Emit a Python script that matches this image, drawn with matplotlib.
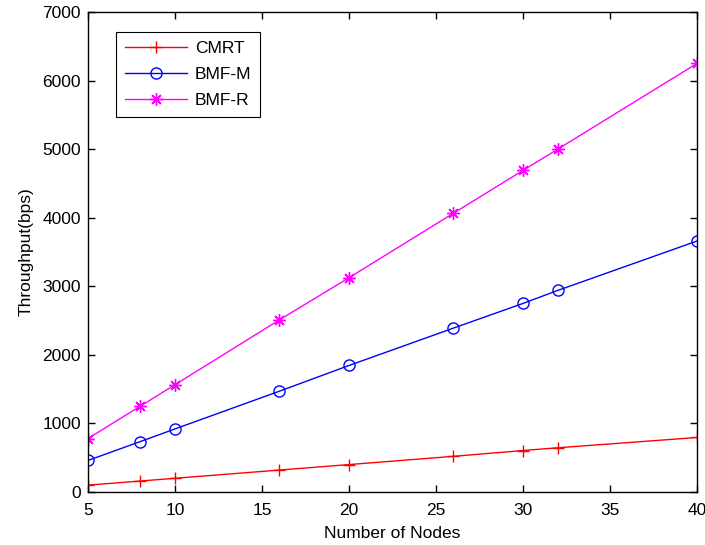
import matplotlib
matplotlib.use("Agg")
import matplotlib.pyplot as plt

nodes = [5, 8, 10, 16, 20, 26, 30, 32, 40]
cmrt = [100, 160, 200, 320, 400, 520, 605, 645, 795]
bmf_m = [460, 735, 920, 1470, 1845, 2390, 2750, 2940, 3660]
bmf_r = [780, 1250, 1565, 2510, 3125, 4065, 4690, 5000, 6250]

xticks = [5, 10, 15, 20, 25, 30, 35, 40]
yticks = [0, 1000, 2000, 3000, 4000, 5000, 6000, 7000]

plt.rcParams['font.family'] = ['Liberation Sans', 'DejaVu Sans']
fs = 12.5
fig = plt.figure(figsize=(7.05, 5.45), dpi=100)
ax = fig.add_axes([88/705, 53/545, (697-88)/705, (492-12)/545])

ax.plot(nodes, cmrt, color='#ff0000', marker='+', markersize=9, lw=1, mew=1, label='CMRT')
ax.plot(nodes, bmf_m, color='#0000ff', marker='o', markersize=8, lw=1, mew=1,
        markerfacecolor='none', label='BMF-M')
ax.plot(nodes, bmf_r, color='#ff00ff', marker=(8, 2, 0), markersize=9, lw=1, mew=1, label='BMF-R')

ax.set_xlim(5, 40)
ax.set_ylim(0, 7000)
ax.set_xticks(xticks)
ax.set_yticks(yticks)
ax.tick_params(axis='x', pad=8)
ax.tick_params(direction='in', top=True, right=True, labelsize=fs, length=5, width=1)
ax.tick_params(axis='y', pad=5)
for s in ax.spines.values():
    s.set_linewidth(1)
ax.set_xlabel('Number of Nodes', fontsize=fs, labelpad=6)
ax.set_ylabel('Throughput(bps)', fontsize=fs, labelpad=6)

leg = ax.legend(loc='upper left', bbox_to_anchor=(0.046, 0.958), borderaxespad=0,
                fontsize=fs, numpoints=1, fancybox=False, edgecolor='black',
                framealpha=1, handlelength=3.6, handletextpad=0.45,
                borderpad=0.5, labelspacing=0.62)
leg.get_frame().set_linewidth(0.8)

fig.savefig('out.png', dpi=100)
